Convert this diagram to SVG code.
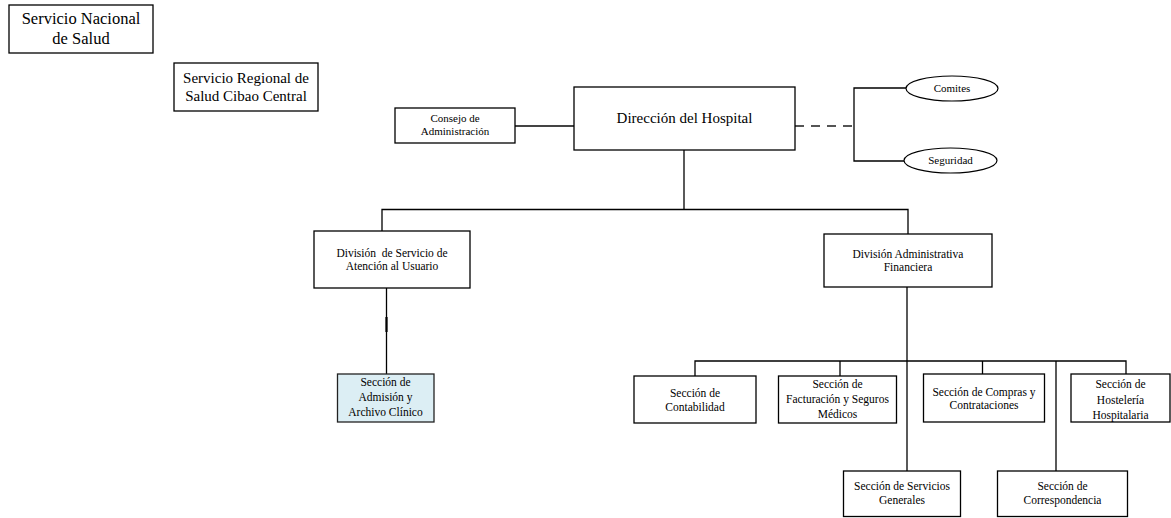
<svg xmlns="http://www.w3.org/2000/svg" width="1171" height="518" viewBox="0 0 1171 518">
<style>
.box{fill:#fff;stroke:#000;stroke-width:1.3}
.blue{fill:#DCEEF4;stroke:#222;stroke-width:1.3}
.ell{fill:#fff;stroke:#000;stroke-width:1.2}
.ln{fill:none;stroke:#000;stroke-width:1.3}
.gl{fill:none;stroke:#444;stroke-width:2}
.dash{fill:none;stroke:#555;stroke-width:2;stroke-dasharray:9,7}
text{font-family:"Liberation Serif","Times New Roman",serif;fill:#000;text-anchor:middle}
.t16{font-size:16.5px}
.t15{font-size:15px}
.t11{font-size:11.5px}
.t10{font-size:11px}
</style>
<rect width="1171" height="518" fill="#fff"/>
<g id="connectors">
<line class="gl" x1="515" y1="126" x2="574" y2="126"/>
<line class="dash" x1="795" y1="126" x2="854" y2="126"/>
<polyline class="ln" points="906,88 854,88 854,161 904,161"/>
<line class="ln" x1="684" y1="150" x2="684" y2="209.5"/>
<polyline class="ln" points="382,231 382,209.5 908,209.5 908,234"/>
<line class="ln" x1="386.5" y1="288" x2="386.5" y2="374"/>
<line stroke="#000" stroke-width="2.2" x1="386.5" y1="317" x2="386.5" y2="332"/>
<line class="ln" x1="907" y1="287" x2="907" y2="471"/>
<polyline class="ln" points="695,376 695,361 1126,361 1126,374"/>
<line class="ln" x1="840" y1="361" x2="840" y2="376"/>
<line class="ln" x1="982.5" y1="361" x2="982.5" y2="374"/>
<line class="ln" x1="1056" y1="361" x2="1056" y2="471"/>
</g>
<g id="n-sns">
<rect class="box" x="9" y="5" width="144" height="48"/>
<text class="t16" x="81" y="24">Servicio Nacional</text>
<text class="t16" x="81" y="44">de Salud</text>
</g>
<g id="n-srs">
<rect class="box" x="174" y="63" width="144" height="48"/>
<text class="t15" x="246" y="83">Servicio Regional de</text>
<text class="t15" x="246" y="101">Salud Cibao Central</text>
</g>
<g id="n-consejo">
<rect class="box" x="395" y="108" width="120" height="35"/>
<text class="t10" x="455" y="122">Consejo de</text>
<text class="t10" x="455" y="135">Administración</text>
</g>
<g id="n-direccion">
<rect class="box" x="574" y="87" width="221" height="63"/>
<text class="t15" x="684.5" y="123">Dirección del Hospital</text>
</g>
<g id="n-comites">
<ellipse class="ell" cx="952" cy="88.5" rx="46" ry="12.5"/>
<text class="t10" x="952" y="92">Comites</text>
</g>
<g id="n-seguridad">
<ellipse class="ell" cx="950.5" cy="160.5" rx="46.5" ry="12.5"/>
<text class="t10" x="950.5" y="164">Seguridad</text>
</g>
<g id="n-div-usuario">
<rect class="box" x="314" y="231" width="156" height="57"/>
<text class="t11" x="392" y="257" xml:space="preserve">División  de Servicio de</text>
<text class="t11" x="392" y="270">Atención al Usuario</text>
</g>
<g id="n-div-financiera">
<rect class="box" x="824" y="234" width="168" height="53"/>
<text class="t11" x="908" y="258">División Administrativa</text>
<text class="t11" x="908" y="270.5">Financiera</text>
</g>
<g id="n-admision">
<rect class="blue" x="337.5" y="374" width="96.5" height="48"/>
<text class="t11" x="385.5" y="386">Sección de</text>
<text class="t11" x="385.5" y="401">Admisión  y</text>
<text class="t11" x="385.5" y="416">Archivo Clínico</text>
</g>
<g id="n-contabilidad">
<rect class="box" x="634" y="376" width="122" height="47"/>
<text class="t11" x="695" y="397">Sección de</text>
<text class="t11" x="695" y="410.5">Contabilidad</text>
</g>
<g id="n-facturacion">
<rect class="box" x="778.5" y="376" width="118" height="47"/>
<text class="t11" x="837.5" y="387.5">Sección de</text>
<text class="t11" x="837.5" y="403">Facturación y Seguros</text>
<text class="t11" x="837.5" y="418">Médicos</text>
</g>
<g id="n-compras">
<rect class="box" x="923.5" y="374" width="121" height="48"/>
<text class="t11" x="984" y="395.5">Sección de Compras y</text>
<text class="t11" x="984" y="408.5">Contrataciones</text>
</g>
<g id="n-hosteleria">
<rect class="box" x="1071" y="374" width="99" height="48"/>
<text class="t11" x="1120.5" y="387.5">Sección de</text>
<text class="t11" x="1120.5" y="404">Hostelería</text>
<text class="t11" x="1120.5" y="418.5">Hospitalaria</text>
</g>
<g id="n-servicios">
<rect class="box" x="843.5" y="471" width="117" height="45.5"/>
<text class="t11" x="902" y="490">Sección de Servicios</text>
<text class="t11" x="902" y="504">Generales</text>
</g>
<g id="n-correspondencia">
<rect class="box" x="997.5" y="471" width="130" height="45.5"/>
<text class="t11" x="1062.5" y="490">Sección de</text>
<text class="t11" x="1062.5" y="504">Correspondencia</text>
</g>
</svg>
